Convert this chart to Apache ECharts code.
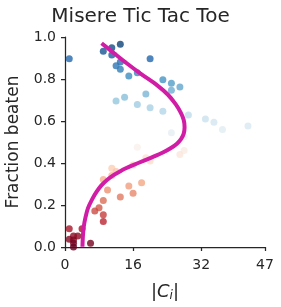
<!DOCTYPE html>
<html><head><meta charset="utf-8">
<script src="https://cdn.jsdelivr.net/npm/echarts@6/dist/echarts.min.js"></script>
<style>html,body{margin:0;padding:0;background:#fff}#c{width:281px;height:307px}</style>
</head><body><div id="c"></div>
<script>
// scatter points: |C_i| and fraction beaten
const pointsX = [1,9,11,13,11,13,12,13,15,17,20,23,25,27,25,19,14,12,17,20,23,29,33,35,37,43,25,28,17,28,27,19,20,16,11,12,11,9,18,15,10,16,13,9,8,7,9,9,1,4,2,3,1,2,2,6,2];
const pointsY = [0.896,0.932,0.949,0.965,0.914,0.881,0.863,0.846,0.814,0.830,0.897,0.797,0.780,0.762,0.746,0.729,0.713,0.695,0.678,0.663,0.646,0.629,0.610,0.594,0.560,0.576,0.544,0.525,0.475,0.459,0.441,0.425,0.410,0.390,0.375,0.359,0.340,0.322,0.306,0.290,0.271,0.256,0.238,0.221,0.187,0.171,0.154,0.121,0.087,0.087,0.052,0.052,0.037,0.033,0.018,0.018,0.0];
// fitted curve
const curveX = [8.6,11.5,14.5,18.0,21.6,24.2,26.0,27.2,27.9,28.1,27.9,27.3,26.3,24.8,23.0,20.8,18.4,16.0,14.3,12.9,11.4,9.8,8.5,7.4,6.4,5.4,4.8,4.4,4.2,4.1];
const curveY = [0.970,0.923,0.875,0.822,0.771,0.725,0.680,0.640,0.605,0.570,0.540,0.515,0.492,0.470,0.450,0.430,0.410,0.390,0.375,0.360,0.342,0.318,0.292,0.262,0.228,0.185,0.140,0.095,0.050,0.001];
const xTicks = [0,16,32,47];
const yTicks = [0,0.2,0.4,0.6,0.8,1.0];

const FONT = 'DejaVu Sans';
const ink = '#262626';
const chart = echarts.init(document.getElementById('c'), null, {renderer:'canvas'});
chart.setOption({
  animation:false,
  title:{text:'Misere Tic Tac Toe', left:'center', top:2,
    textStyle:{fontFamily:FONT, fontSize:20, fontWeight:'normal', color:ink}},
  grid:{left:65, right:16, top:37, bottom:60, containLabel:false, outerBoundsMode:'none'},
  visualMap:{show:false, type:'continuous', seriesIndex:0, dimension:1, min:0, max:1,
    inRange:{color:['#67001f','#b2182b','#d6604d','#f4a582','#fddbc7','#f7f7f7','#d1e5f0','#92c5de','#4393c3','#2166ac','#053061']}},
  xAxis:{type:'value', min:0, max:47, offset:6,
    name:'|{it|C}{sub|i}|', nameLocation:'middle', nameGap:29,
    nameTextStyle:{fontFamily:FONT, fontSize:18, color:ink,
      rich:{it:{fontFamily:FONT, fontSize:18, fontStyle:'italic', color:ink},
            sub:{fontFamily:FONT, fontSize:12, fontStyle:'italic', color:ink, verticalAlign:'bottom', padding:[8,0,0,0]}}},
    axisLine:{lineStyle:{color:ink, width:1.25}},
    axisTick:{show:true, length:4, lineStyle:{color:ink, width:1.25}, customValues:xTicks},
    axisLabel:{fontFamily:FONT, fontSize:14, color:ink, margin:5, customValues:xTicks},
    splitLine:{show:false}},
  yAxis:{type:'value', min:0, max:1, offset:5,
    name:'Fraction beaten', nameLocation:'middle', nameGap:38,
    nameTextStyle:{fontFamily:FONT, fontSize:17, color:ink},
    axisLine:{show:true, lineStyle:{color:ink, width:1.25}},
    axisTick:{show:true, length:4, lineStyle:{color:ink, width:1.25}, customValues:yTicks},
    axisLabel:{fontFamily:FONT, fontSize:14, color:ink, margin:4, customValues:yTicks,
      formatter:v=>Number(v).toFixed(1)},
    splitLine:{show:false}},
  series:[
    {type:'scatter', symbolSize:7, itemStyle:{opacity:0.8},
     data:pointsX.map((x,i)=>[x,pointsY[i]]), z:2},
    {type:'line', smooth:0.3, showSymbol:false, symbol:'none',
     lineStyle:{color:'#d11ca6', width:4}, itemStyle:{color:'#d11ca6'},
     data:curveX.map((x,i)=>[x,curveY[i]]), z:3}
  ]
});
</script></body></html>
